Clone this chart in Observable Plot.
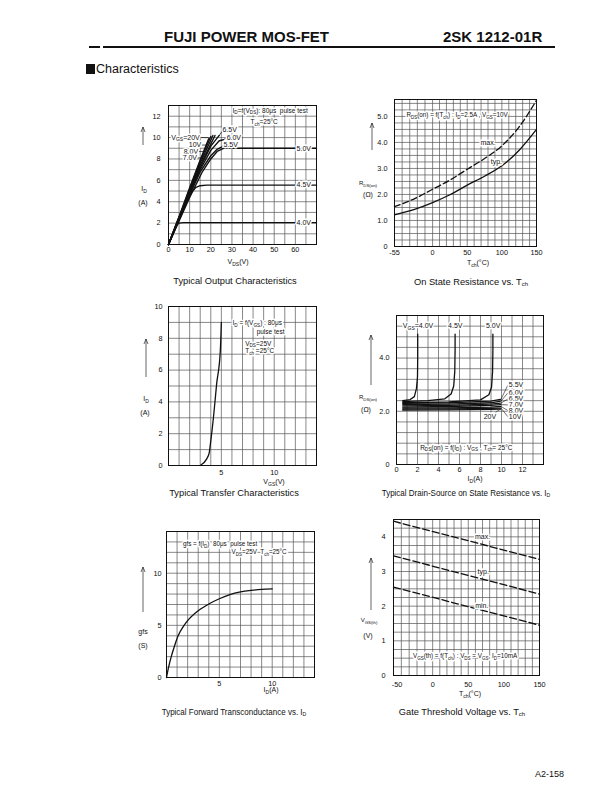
<!DOCTYPE html>
<html><head><meta charset="utf-8">
<script src="https://cdn.jsdelivr.net/npm/d3@7"></script>
<script src="https://cdn.jsdelivr.net/npm/@observablehq/plot@0.6"></script>
<style>
body{margin:0;background:#fff;width:612px;height:792px;position:relative;font-family:"Liberation Sans",Arial,sans-serif;overflow:hidden;color:#111}
.abs{position:absolute;white-space:nowrap;line-height:1}
.title{font-size:9.3px;transform:translate(-50%,-50%)}
.cond{transform:translate(-50%,-50%) scaleX(0.86)}
sub{font-size:6px;vertical-align:-1px;line-height:0}
</style></head><body>
<div class="abs" style="left:164px;top:29px;font-weight:bold;font-size:15px">FUJI POWER MOS-FET</div>
<div class="abs" style="left:443px;top:29px;font-weight:bold;font-size:15px">2SK 1212-01R</div>
<div class="abs" style="left:89px;top:46px;width:11px;height:2px;background:#111"></div>
<div class="abs" style="left:103px;top:46px;width:452px;height:2px;background:#111"></div>
<div class="abs" style="left:86px;top:64px;width:9px;height:10px;background:#111"></div>
<div class="abs" style="left:96px;top:63px;font-size:12.5px">Characteristics</div>
<div class="abs title" style="left:235px;top:282px">Typical Output Characteristics</div>
<div class="abs title" style="left:471px;top:283px">On State Resistance vs. T<sub>ch</sub></div>
<div class="abs title" style="left:234px;top:494px">Typical Transfer Characteristics</div>
<div class="abs title cond" style="left:466px;top:494px">Typical Drain-Source on State Resistance vs. I<sub>D</sub></div>
<div class="abs title cond" style="left:234px;top:713px">Typical Forward Transconductance vs. I<sub>D</sub></div>
<div class="abs title" style="left:462px;top:713px">Gate Threshold Voltage vs. T<sub>ch</sub></div>
<div class="abs" style="left:535px;top:770px;font-size:9px">A2-158</div>
<script>
// ---------- Chart 1: Output characteristics, I_D vs V_DS ----------
const outTicksX = [0,10,20,30,40,50,60];
const outTicksY = [0,2,4,6,8,10,12];
const outVgs40 = [[0,0],[2,1.0],[3,1.5],[4,1.85],[5,2.0],[7,2.05],[70,2.05]];
const outVgs45 = [[0,0],[4,2.1],[8,3.9],[11,4.9],[13,5.35],[15,5.5],[18,5.55],[70,5.55]];
const outVgs50 = [[0,0],[10,4.4],[16,6.8],[20,8.0],[23,8.7],[26,9.0],[70,9.0]];
const outVgs55 = [[0,0],[5,2.3],[10,4.6],[15,6.8],[20,8.3],[23,8.9],[25,9.1]];
const outVgs60 = [[0,0],[5,2.35],[10,4.8],[15,7.0],[20,8.8],[24,9.7],[26,9.8]];
const outVgs65 = [[0,0],[5,2.4],[10,4.9],[15,7.2],[20,9.2],[24,10.2]];
const outVgs70 = [[0,0],[5,2.45],[10,5.0],[15,7.4],[22,10.2]];
const outVgs80 = [[0,0],[5,2.5],[10,5.1],[15,7.6],[21,10.2]];
const outVgs10 = [[0,0],[5,2.55],[10,5.2],[15,7.8],[20,10.1]];
const outVgs20 = [[0,0],[5,2.6],[10,5.3],[15,7.9],[19,9.9]];

// ---------- Chart 2: R_DS(on) vs T_ch ----------
const rtTicksX = [-55,0,50,100,150];
const rtTicksY = [0,1,2,3,4,5];
const rtTch = [-55,-25,0,25,50,75,100,125,150];
const rtTyp = [1.22,1.44,1.69,1.99,2.36,2.7,3.1,3.7,4.5];
const rtMax = [1.53,1.85,2.2,2.55,2.97,3.38,3.87,4.6,5.62];

// ---------- Chart 3: Transfer, I_D vs V_GS ----------
const trTicksX = [5,10];
const trTicksY = [0,2,4,6,8,10];
const trVgs = [3.0,3.6,3.85,4.0,4.25,4.55,4.9,5.0];
const trId  = [0,0.4,0.8,1.55,3.0,5.1,7.2,9.0];

// ---------- Chart 4: R_DS(on) vs I_D ----------
const riTicksX = [0,2,4,6,8,10,12];
const riTicksY = [0,2,4];
const riVgs40 = [[0.6,2.4],[1.3,2.44],[1.7,2.55],[1.9,2.85],[2.0,3.3],[2.02,4.0],[2.02,4.9]];
const riVgs45 = [[0.6,2.36],[3,2.4],[4.6,2.47],[5.2,2.65],[5.45,2.95],[5.55,3.5],[5.58,4.3],[5.58,4.9]];
const riVgs50 = [[0.6,2.32],[5,2.35],[8,2.43],[8.8,2.62],[9.05,2.9],[9.15,3.5],[9.18,4.3],[9.18,4.9]];
const riVgs55 = [[0.6,2.3],[5,2.32],[9,2.38],[9.9,2.45]];
const riVgs60 = [[0.6,2.25],[5,2.27],[9,2.32],[9.9,2.38]];
const riVgs65 = [[0.6,2.2],[5,2.22],[9,2.27],[9.9,2.31]];
const riVgs70 = [[0.6,2.16],[5,2.18],[9,2.22],[9.9,2.25]];
const riVgs80 = [[0.6,2.12],[5,2.13],[9,2.16],[9.9,2.18]];
const riVgs10 = [[0.6,2.08],[5,2.09],[9,2.11],[9.9,2.12]];
const riVgs20 = [[0.6,2.04],[5,2.05],[9,2.07],[9.9,2.08]];

// ---------- Chart 5: gfs vs I_D ----------
const gfTicksX = [5,10];
const gfTicksY = [0,5,10];
const gfId  = [0,0.2,0.45,0.75,1.1,1.6,2.0,3.0,4.0,5.0,6.0,7.0,8.0,9.0,10.0];
const gfGfs = [0,1.0,2.0,3.0,4.0,4.9,5.45,6.4,7.05,7.55,7.95,8.2,8.35,8.45,8.5];

// ---------- Chart 6: V_GS(th) vs T_ch ----------
const vtTicksX = [-50,0,50,100,150];
const vtTicksY = [0,1,2,3,4];
const vtTch = [-55,150];
const vtMax = [4.45,3.35];
const vtTyp = [3.45,2.35];
const vtMin = [2.55,1.45];

// ---------- helpers ----------
const FONT = "Liberation Sans, Arial, sans-serif";
function rows(named) {
  const out = [];
  for (const [name, pts] of Object.entries(named)) for (const [x, y] of pts) out.push({curve: name, x, y});
  return out;
}
function zipRows(xs, ys) { return xs.map((x, i) => ({x, y: ys[i]})); }
const tempGrid = [-44,-33,-22,-11,0,10,20,30,40,50,60,70,80,90,100,110,120,130,140];

// custom text/arrow decoration with subscripts
function deco(items) {
  return (index, scales, values, dims) => {
    const g = d3.create("svg:g").attr("font-family", FONT);
    const L = dims.marginLeft, T = dims.marginTop;
    for (const it of items) {
      let px, py;
      if (it.fx !== undefined) { px = L + it.fx; py = T + it.fy; }
      else { px = scales.x(it.x); py = scales.y(it.y); }
      if (it.arrow) {
        g.append("line").attr("x1", px).attr("x2", px).attr("y1", py).attr("y2", py - it.arrow)
          .attr("stroke", "#222").attr("stroke-width", 0.7);
        g.append("path").attr("d", `M${px-2},${py-it.arrow+5}L${px},${py-it.arrow}L${px+2},${py-it.arrow+5}`)
          .attr("fill", "none").attr("stroke", "#222").attr("stroke-width", 0.7);
        continue;
      }
      const size = it.size || 7;
      if (it.halo) {
        const t0 = g.append("text").attr("x", px).attr("y", py).attr("dy", "0.35em")
          .attr("text-anchor", it.anchor || "middle").attr("font-size", size)
          .attr("fill", "white").attr("stroke", "white").attr("stroke-width", 3).attr("stroke-linejoin", "round");
        fill(t0, it.parts, size);
      }
      const t = g.append("text").attr("x", px).attr("y", py).attr("dy", "0.35em")
        .attr("text-anchor", it.anchor || "middle").attr("font-size", size).attr("fill", "#111");
      fill(t, it.parts, size);
    }
    return g.node();
  };
}
function fill(t, parts, size) {
  let shift = 0;
  for (const p of parts) {
    if (typeof p === "string") {
      const s = t.append("tspan").text(p);
      if (shift) { s.attr("dy", -shift); shift = 0; }
    } else {
      t.append("tspan").attr("font-size", size * 0.72).attr("dy", 1.8).text(p.s);
      shift = 1.8;
    }
  }
}
const sub = s => ({s});

function chart(c) {
  const ml = 48, mr = 16, mt = 10, mb = 32;
  const grid = [
    Plot.ruleX(c.gx, {stroke: "#555", strokeWidth: 0.7}),
    Plot.ruleY(c.gy, {stroke: "#555", strokeWidth: 0.7})
  ];
  const p = Plot.plot({
    width: c.w + ml + mr, height: c.h + mt + mb,
    marginLeft: ml, marginRight: mr, marginTop: mt, marginBottom: mb,
    style: {fontFamily: FONT, fontSize: "7.3px", color: "#111", background: "transparent", overflow: "visible"},
    x: {domain: c.xd, ticks: c.xt, tickSize: 0, tickPadding: c.xpad ?? 3, tickFormat: c.xf || (d => String(d)), label: null},
    y: {domain: c.yd, ticks: c.yt, tickSize: 0, tickPadding: c.ypad ?? 6, tickFormat: c.yf || (d => String(d)), label: null},
    marks: [...grid, ...c.marks, Plot.frame({stroke: "#111", strokeWidth: 1})]
  });
  p.style.position = "absolute";
  p.style.left = (c.fx - ml) + "px";
  p.style.top = (c.fy - mt) + "px";
  document.body.appendChild(p);
}
const halo = {stroke: "white", strokeWidth: 3, fill: "#111", fontSize: 7, fontFamily: FONT};

// ---------- Chart 1 ----------
const outRows = rows({"4.0V": outVgs40, "4.5V": outVgs45, "5.0V": outVgs50, "5.5V": outVgs55, "6.0V": outVgs60,
  "6.5V": outVgs65, "7.0V": outVgs70, "8.0V": outVgs80, "10V": outVgs10, "20V": outVgs20});
chart({
  fx: 168, fy: 105, w: 148, h: 139, xd: [0, 70], yd: [0, 13], xt: outTicksX, yt: outTicksY, xpad: 2, ypad: 8,
  gx: d3.range(5, 70, 5), gy: d3.range(1, 13, 1),
  marks: [
    Plot.line(outRows, {x: "x", y: "y", z: "curve", stroke: "#111", strokeWidth: 1.4}),
    Plot.text(["5.0V", "4.5V", "4.0V"], {x: 64, y: [9.0, 5.55, 2.05], text: d => d, ...halo}),
    Plot.link([0, 1, 2, 3], {x1: [15.3, 15.8, 14.3, 13.8], x2: [19, 18, 17.2, 16.5], y1: [10, 9.3, 8.7, 8.1], y2: [10, 9.3, 8.7, 8.1], stroke: "#111", strokeWidth: 0.7}),
    Plot.link([0, 1, 2], {x1: [24, 26, 25], y1: [10.2, 9.8, 9.1], x2: [25.4, 27.4, 25.9], y2: [10.6, 10.0, 9.3], stroke: "#111", strokeWidth: 0.7}),
    Plot.text(["6.5V", "6.0V", "5.5V"], {x: [25.5, 27.5, 26], y: [10.7, 10.0, 9.3], text: d => d, textAnchor: "start", ...halo}),
    Plot.text(["10V", "8.0V", "7.0V"], {x: [15.5, 14, 13.5], y: [9.3, 8.7, 8.1], text: d => d, textAnchor: "end", ...halo}),
    deco([
      {x: 15, y: 10, anchor: "end", halo: true, parts: ["V", sub("GS"), "=20V"]},
      {x: 30.5, y: 12.5, anchor: "start", halo: true, size: 6.5, parts: ["I", sub("D"), "=f(V", sub("DS"), "): 80\u03bcs  pulse test"]},
      {x: 45.5, y: 11.4, anchor: "middle", halo: true, size: 6.5, parts: ["T", sub("ch"), "=25\u00b0C"]},
      {fx: -25, fy: 40, arrow: 18},
      {fx: -24, fy: 84, parts: ["I", sub("D")]},
      {fx: -25, fy: 98, parts: ["(A)"]},
      {fx: 70, fy: 157, parts: ["V", sub("DS"), "(V)"]}
    ])
  ]
});

// ---------- Chart 2 ----------
chart({
  fx: 394, fy: 99, w: 142, h: 147, xd: [-55, 150], yd: [0, 5.65], xt: rtTicksX, yt: rtTicksY, xpad: 3, ypad: 7,
  yf: d => d ? d.toFixed(1) : "0",
  gx: tempGrid, gy: d3.range(0.25, 5.6, 0.25),
  marks: [
    Plot.line(zipRows(rtTch, rtTyp), {x: "x", y: "y", curve: "monotone-x", stroke: "#111", strokeWidth: 1.3}),
    Plot.line(zipRows(rtTch, rtMax), {x: "x", y: "y", curve: "monotone-x", stroke: "#111", strokeWidth: 1.3, strokeDasharray: "6,3"}),
    Plot.text(["max."], {x: 80, y: 3.98, text: d => d, ...halo}),
    Plot.text(["typ."], {x: 92, y: 3.25, text: d => d, ...halo}),
    deco([
      {x: 36, y: 5.05, halo: true, size: 6.3, parts: ["R", sub("DS"), "(on) = f(T", sub("ch"), ") : I", sub("D"), "=2.5A , V", sub("GS"), "=10V"]},
      {fx: -22, fy: 51, arrow: 27},
      {fx: -26, fy: 84, size: 6, parts: ["R", sub("DS(on)")]},
      {fx: -26, fy: 96, parts: ["(\u03a9)"]},
      {fx: 84, fy: 164, parts: ["T", sub("ch"), "(\u00b0C)"]}
    ])
  ]
});

// ---------- Chart 3 ----------
chart({
  fx: 168, fy: 306, w: 148, h: 159, xd: [0, 14], yd: [0, 10], xt: trTicksX, yt: trTicksY, xpad: 4, ypad: 6,
  gx: d3.range(1, 14, 1), gy: d3.range(1, 10, 1),
  marks: [
    Plot.line(zipRows(trVgs, trId), {x: "x", y: "y", curve: "monotone-x", stroke: "#111", strokeWidth: 1.3}),
    deco([
      {x: 6.1, y: 8.95, anchor: "start", halo: true, size: 6.5, parts: ["I", sub("D"), " = f(V", sub("GS"), ") : 80\u03bcs"]},
      {x: 9.7, y: 8.4, halo: true, size: 6.5, parts: ["pulse test"]},
      {x: 7.3, y: 7.65, anchor: "start", halo: true, size: 6.5, parts: ["V", sub("DS"), "=25V"]},
      {x: 7.3, y: 7.2, anchor: "start", halo: true, size: 6.5, parts: ["T", sub("ch"), " =25\u00b0C"]},
      {fx: -22, fy: 71, arrow: 38},
      {fx: -22, fy: 93, parts: ["I", sub("D")]},
      {fx: -23, fy: 107, parts: ["(A)"]},
      {fx: 106, fy: 176, parts: ["V", sub("GS"), "(V)"]}
    ])
  ]
});

// ---------- Chart 4 ----------
const riRows = rows({"4.0V": riVgs40, "4.5V": riVgs45, "5.0V": riVgs50, "5.5V": riVgs55, "6.0V": riVgs60,
  "6.5V": riVgs65, "7.0V": riVgs70, "8.0V": riVgs80, "10V": riVgs10, "20V": riVgs20});
const riLabels = ["5.5V", "6.0V", "6.5V", "7.0V", "8.0V", "10V"];
const riLabelY = [2.98, 2.69, 2.46, 2.24, 2.03, 1.8];
const riEndY = [2.45, 2.38, 2.31, 2.25, 2.18, 2.12];
chart({
  fx: 396, fy: 315, w: 147, h: 149, xd: [0, 14], yd: [0, 5.6], xt: riTicksX, yt: riTicksY, xpad: 2, ypad: 7,
  yf: d => d ? d.toFixed(1) : "0",
  gx: d3.range(1, 14, 1), gy: d3.range(0.4, 5.5, 0.4),
  marks: [
    Plot.line(riRows, {x: "x", y: "y", z: "curve", stroke: "#111", strokeWidth: 1.3}),
    Plot.link(riLabels, {x1: 9.95, y1: (d, i) => riEndY[i], x2: 10.6, y2: (d, i) => riLabelY[i], stroke: "#111", strokeWidth: 0.6}),
    Plot.link(["20V"], {x1: 9.4, y1: 1.95, x2: 9.9, y2: 2.08, stroke: "#111", strokeWidth: 0.6}),
    Plot.text(riLabels, {x: 10.7, y: (d, i) => riLabelY[i], text: d => d, textAnchor: "start", ...halo}),
    Plot.text(["20V"], {x: 8.9, y: 1.8, text: d => d, ...halo}),
    Plot.text(["4.5V", "5.0V"], {x: [5.6, 9.2], y: 5.2, text: d => d, ...halo}),
    deco([
      {x: 2.1, y: 5.2, halo: true, parts: ["V", sub("GS"), "=4.0V"]},
      {x: 2.3, y: 0.63, anchor: "start", halo: true, size: 6.5, parts: ["R", sub("DS"), "(on) = f(I", sub("D"), ") : V", sub("GS"), " , T", sub("ch"), "= 25\u00b0C"]},
      {fx: -25, fy: 70, arrow: 50},
      {fx: -28, fy: 82, size: 6, parts: ["R", sub("DS(on)")]},
      {fx: -30, fy: 95, parts: ["(\u03a9)"]},
      {fx: 79, fy: 164, parts: ["I", sub("D"), "(A)"]}
    ])
  ]
});

// ---------- Chart 5 ----------
chart({
  fx: 166, fy: 531, w: 148, h: 146, xd: [0, 14], yd: [0, 14], xt: gfTicksX, yt: gfTicksY, xpad: 3, ypad: 5,
  gx: d3.range(1, 14, 1), gy: d3.range(1, 14, 1),
  marks: [
    Plot.line(zipRows(gfId, gfGfs), {x: "x", y: "y", curve: "monotone-x", stroke: "#111", strokeWidth: 1.3}),
    deco([
      {x: 1.6, y: 12.8, anchor: "start", halo: true, size: 6.3, parts: ["gfs = f(I", sub("D"), ")  80\u03bcs  pulse test"]},
      {x: 6.2, y: 12.0, anchor: "start", halo: true, size: 6.3, parts: ["V", sub("DS"), "=25V  T", sub("ch"), "=25\u00b0C"]},
      {fx: -23, fy: 81, arrow: 45},
      {fx: -23, fy: 101, parts: ["gfs"]},
      {fx: -23, fy: 115, parts: ["(S)"]},
      {fx: 105, fy: 159, parts: ["I", sub("D"), "(A)"]}
    ])
  ]
});

// ---------- Chart 6 ----------
chart({
  fx: 393, fy: 519, w: 146, h: 156, xd: [-55, 150], yd: [0, 4.5], xt: vtTicksX, yt: vtTicksY, xpad: 6, ypad: 8,
  gx: tempGrid, gy: d3.range(0.25, 4.5, 0.25),
  marks: [
    Plot.line(zipRows(vtTch, vtMax), {x: "x", y: "y", stroke: "#111", strokeWidth: 1.3, strokeDasharray: "7,3"}),
    Plot.line(zipRows(vtTch, vtTyp), {x: "x", y: "y", stroke: "#111", strokeWidth: 1.3, strokeDasharray: "7,3"}),
    Plot.line(zipRows(vtTch, vtMin), {x: "x", y: "y", stroke: "#111", strokeWidth: 1.3, strokeDasharray: "7,3"}),
    Plot.text(["max.", "typ.", "min."], {x: [70, 71, 69], y: [4.0, 3.0, 2.0], text: d => d, ...halo}),
    deco([
      {x: -27, y: 0.55, anchor: "start", halo: true, size: 6.3, parts: ["V", sub("GS"), "(th) = f(T", sub("ch"), ") : V", sub("DS"), " = V", sub("GS"), ", I", sub("D"), "=10mA"]},
      {fx: -22, fy: 91, arrow: 52},
      {fx: -24, fy: 101, size: 6, parts: ["V", sub("GS(th)")]},
      {fx: -25, fy: 117, parts: ["(V)"]},
      {fx: 77, fy: 175, parts: ["T", sub("ch"), "(\u00b0C)"]}
    ])
  ]
});
</script>
</body></html>
